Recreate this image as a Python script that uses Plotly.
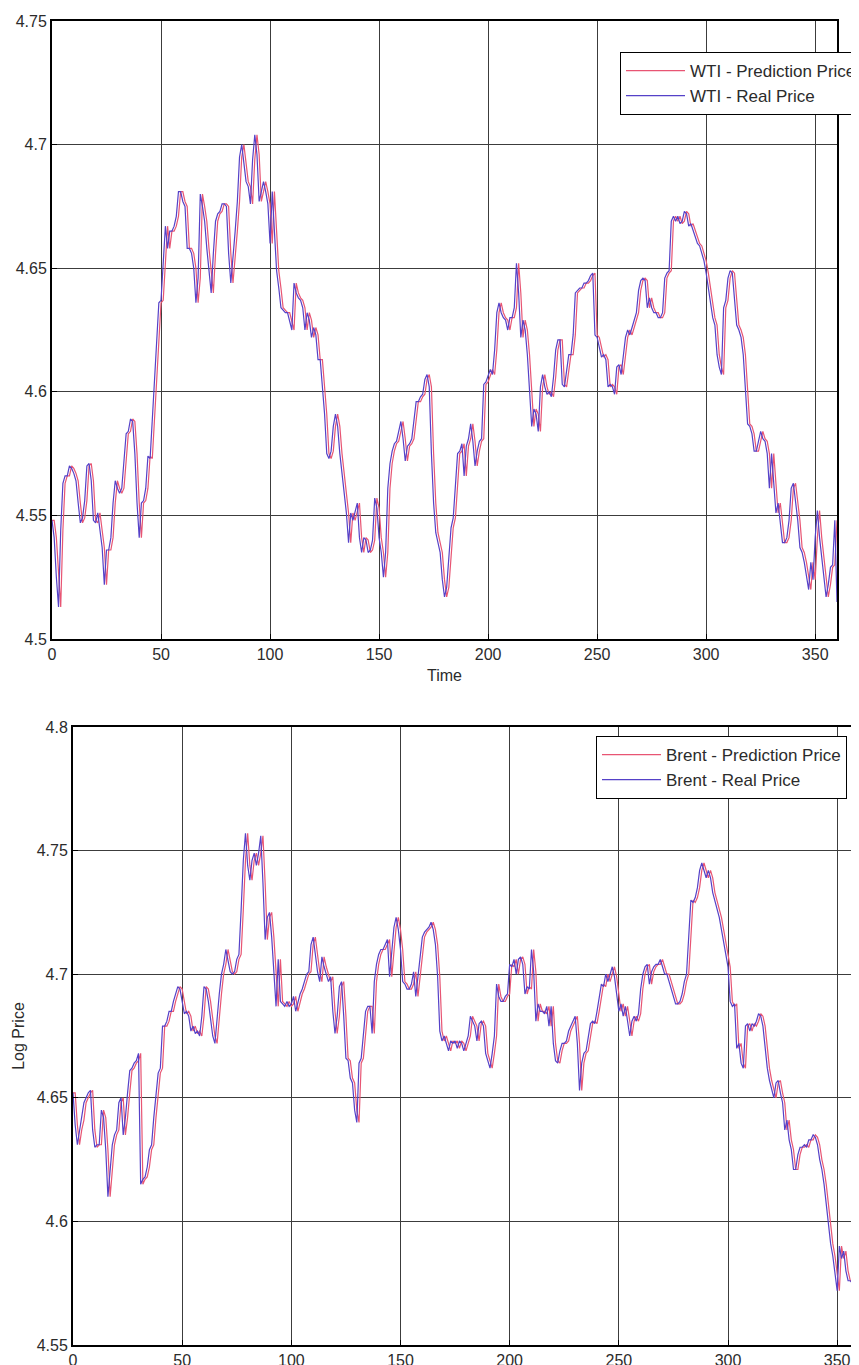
import plotly.graph_objects as go

# ---------------- data ----------------
time = list(range(0, 361))

wti_real = [
    4.548, 4.541, 4.525, 4.513, 4.544, 4.563, 4.566, 4.566, 4.570, 4.569,
    4.567, 4.564, 4.555, 4.547, 4.549, 4.556, 4.570, 4.571, 4.564, 4.548,
    4.547, 4.551, 4.544, 4.537, 4.522, 4.536, 4.536, 4.541, 4.555, 4.564,
    4.561, 4.559, 4.561, 4.574, 4.583, 4.584, 4.589, 4.588, 4.575, 4.555,
    4.541, 4.555, 4.556, 4.561, 4.574, 4.573, 4.588, 4.605, 4.623, 4.636,
    4.637, 4.653, 4.667, 4.658, 4.665, 4.665, 4.667, 4.671, 4.681, 4.681,
    4.677, 4.675, 4.658, 4.658, 4.656, 4.650, 4.636, 4.646, 4.680, 4.675,
    4.669, 4.658, 4.649, 4.640, 4.656, 4.669, 4.672, 4.673, 4.676, 4.676,
    4.675, 4.656, 4.644, 4.653, 4.665, 4.677, 4.695, 4.700, 4.692, 4.685,
    4.683, 4.676, 4.694, 4.704, 4.696, 4.677, 4.681, 4.685, 4.681, 4.676,
    4.660, 4.681, 4.665, 4.649, 4.642, 4.634, 4.633, 4.632, 4.632, 4.629,
    4.625, 4.644, 4.640, 4.638, 4.637, 4.634, 4.625, 4.632, 4.629, 4.622,
    4.626, 4.623, 4.613, 4.613, 4.602, 4.591, 4.575, 4.573, 4.576, 4.586,
    4.591, 4.586, 4.575, 4.567, 4.557, 4.551, 4.539, 4.551, 4.548, 4.552,
    4.555, 4.541, 4.535, 4.541, 4.540, 4.535, 4.536, 4.540, 4.557, 4.553,
    4.541, 4.535, 4.525, 4.535, 4.561, 4.571, 4.576, 4.579, 4.580, 4.584,
    4.588, 4.581, 4.572, 4.578, 4.579, 4.581, 4.590, 4.596, 4.596, 4.598,
    4.599, 4.605, 4.607, 4.602, 4.575, 4.555, 4.543, 4.539, 4.535, 4.524,
    4.517, 4.521, 4.535, 4.545, 4.549, 4.561, 4.575, 4.576, 4.579, 4.566,
    4.578, 4.581, 4.587, 4.580, 4.570, 4.576, 4.580, 4.581, 4.603, 4.604,
    4.607, 4.609, 4.607, 4.617, 4.632, 4.636, 4.632, 4.630, 4.629, 4.625,
    4.630, 4.630, 4.634, 4.652, 4.640, 4.622, 4.629, 4.625, 4.615, 4.602,
    4.586, 4.593, 4.591, 4.584, 4.602, 4.607, 4.602, 4.599, 4.600, 4.598,
    4.606, 4.617, 4.621, 4.621, 4.603, 4.602, 4.609, 4.615, 4.615, 4.623,
    4.640, 4.641, 4.642, 4.642, 4.644, 4.644, 4.645, 4.647, 4.648, 4.623,
    4.622, 4.618, 4.614, 4.615, 4.613, 4.602, 4.603, 4.602, 4.599, 4.610,
    4.611, 4.607, 4.615, 4.622, 4.625, 4.623, 4.626, 4.629, 4.632, 4.641,
    4.645, 4.646, 4.645, 4.634, 4.638, 4.634, 4.632, 4.632, 4.630, 4.630,
    4.632, 4.646, 4.648, 4.649, 4.669, 4.671, 4.669, 4.671, 4.668, 4.669,
    4.673, 4.672, 4.667, 4.668, 4.665, 4.663, 4.660, 4.659, 4.656, 4.653,
    4.648, 4.642, 4.637, 4.630, 4.627, 4.615, 4.610, 4.607, 4.634, 4.637,
    4.646, 4.649, 4.648, 4.637, 4.627, 4.625, 4.622, 4.615, 4.602, 4.587,
    4.586, 4.583, 4.576, 4.576, 4.580, 4.584, 4.581, 4.580, 4.575, 4.561,
    4.575, 4.561, 4.551, 4.555, 4.548, 4.539, 4.539, 4.541, 4.548, 4.561,
    4.563, 4.555, 4.548, 4.537, 4.535, 4.531, 4.525, 4.520, 4.531, 4.524,
    4.541, 4.552, 4.541, 4.532, 4.524, 4.517, 4.522, 4.529, 4.530, 4.548,
    4.515,
]

wti_pred = [
    4.548, 4.548, 4.541, 4.525, 4.513, 4.544, 4.563, 4.566, 4.566, 4.570,
    4.569, 4.567, 4.564, 4.555, 4.547, 4.549, 4.556, 4.570, 4.571, 4.564,
    4.548, 4.547, 4.551, 4.544, 4.537, 4.522, 4.536, 4.536, 4.541, 4.555,
    4.564, 4.561, 4.559, 4.561, 4.574, 4.583, 4.584, 4.589, 4.588, 4.575,
    4.555, 4.541, 4.555, 4.556, 4.561, 4.574, 4.573, 4.588, 4.605, 4.623,
    4.636, 4.637, 4.653, 4.667, 4.658, 4.665, 4.665, 4.667, 4.671, 4.681,
    4.681, 4.677, 4.675, 4.658, 4.658, 4.656, 4.650, 4.636, 4.646, 4.680,
    4.675, 4.669, 4.658, 4.649, 4.640, 4.656, 4.669, 4.672, 4.673, 4.676,
    4.676, 4.675, 4.656, 4.644, 4.653, 4.665, 4.677, 4.695, 4.700, 4.692,
    4.685, 4.683, 4.676, 4.694, 4.704, 4.696, 4.677, 4.681, 4.685, 4.681,
    4.676, 4.660, 4.681, 4.665, 4.649, 4.642, 4.634, 4.633, 4.632, 4.632,
    4.629, 4.625, 4.644, 4.640, 4.638, 4.637, 4.634, 4.625, 4.632, 4.629,
    4.622, 4.626, 4.623, 4.613, 4.613, 4.602, 4.591, 4.575, 4.573, 4.576,
    4.586, 4.591, 4.586, 4.575, 4.567, 4.557, 4.551, 4.539, 4.551, 4.548,
    4.552, 4.555, 4.541, 4.535, 4.541, 4.540, 4.535, 4.536, 4.540, 4.557,
    4.553, 4.541, 4.535, 4.525, 4.535, 4.561, 4.571, 4.576, 4.579, 4.580,
    4.584, 4.588, 4.581, 4.572, 4.578, 4.579, 4.581, 4.590, 4.596, 4.596,
    4.598, 4.599, 4.605, 4.607, 4.602, 4.575, 4.555, 4.543, 4.539, 4.535,
    4.524, 4.517, 4.521, 4.535, 4.545, 4.549, 4.561, 4.575, 4.576, 4.579,
    4.566, 4.578, 4.581, 4.587, 4.580, 4.570, 4.576, 4.580, 4.581, 4.603,
    4.604, 4.607, 4.609, 4.607, 4.617, 4.632, 4.636, 4.632, 4.630, 4.629,
    4.625, 4.630, 4.630, 4.634, 4.652, 4.640, 4.622, 4.629, 4.625, 4.615,
    4.602, 4.586, 4.593, 4.591, 4.584, 4.602, 4.607, 4.602, 4.599, 4.600,
    4.598, 4.606, 4.617, 4.621, 4.621, 4.603, 4.602, 4.609, 4.615, 4.615,
    4.623, 4.640, 4.641, 4.642, 4.642, 4.644, 4.644, 4.645, 4.647, 4.648,
    4.623, 4.622, 4.618, 4.614, 4.615, 4.613, 4.602, 4.603, 4.602, 4.599,
    4.610, 4.611, 4.607, 4.615, 4.622, 4.625, 4.623, 4.626, 4.629, 4.632,
    4.641, 4.645, 4.646, 4.645, 4.634, 4.638, 4.634, 4.632, 4.632, 4.630,
    4.630, 4.632, 4.646, 4.648, 4.649, 4.669, 4.671, 4.669, 4.671, 4.668,
    4.669, 4.673, 4.672, 4.667, 4.668, 4.665, 4.663, 4.660, 4.659, 4.656,
    4.653, 4.648, 4.642, 4.637, 4.630, 4.627, 4.615, 4.610, 4.607, 4.634,
    4.637, 4.646, 4.649, 4.648, 4.637, 4.627, 4.625, 4.622, 4.615, 4.602,
    4.587, 4.586, 4.583, 4.576, 4.576, 4.580, 4.584, 4.581, 4.580, 4.575,
    4.561, 4.575, 4.561, 4.551, 4.555, 4.548, 4.539, 4.539, 4.541, 4.548,
    4.561, 4.563, 4.555, 4.548, 4.537, 4.535, 4.531, 4.525, 4.520, 4.531,
    4.524, 4.541, 4.552, 4.541, 4.532, 4.524, 4.517, 4.522, 4.529, 4.530,
    4.548,
]

brent_real = [
    4.652, 4.639, 4.631, 4.637, 4.641, 4.648, 4.650, 4.652, 4.653, 4.637,
    4.630, 4.631, 4.631, 4.645, 4.642, 4.629, 4.610, 4.621, 4.631, 4.635,
    4.637, 4.648, 4.650, 4.635, 4.642, 4.652, 4.661, 4.662, 4.664, 4.665,
    4.668, 4.615, 4.617, 4.618, 4.622, 4.629, 4.631, 4.642, 4.652, 4.660,
    4.662, 4.679, 4.679, 4.681, 4.685, 4.685, 4.689, 4.692, 4.695, 4.694,
    4.689, 4.684, 4.685, 4.683, 4.677, 4.679, 4.676, 4.677, 4.675, 4.683,
    4.695, 4.694, 4.689, 4.683, 4.675, 4.672, 4.683, 4.692, 4.700, 4.704,
    4.710, 4.706, 4.701, 4.700, 4.701, 4.706, 4.708, 4.726, 4.746, 4.757,
    4.744, 4.738, 4.746, 4.749, 4.744, 4.749, 4.756, 4.737, 4.714, 4.723,
    4.725, 4.715, 4.699, 4.687, 4.706, 4.689, 4.688, 4.687, 4.689, 4.687,
    4.688, 4.691, 4.685, 4.689, 4.692, 4.694, 4.697, 4.700, 4.701, 4.712,
    4.715, 4.708, 4.701, 4.697, 4.707, 4.703, 4.700, 4.697, 4.699, 4.685,
    4.676, 4.683, 4.695, 4.697, 4.683, 4.666, 4.665, 4.658, 4.656, 4.645,
    4.640, 4.664, 4.666, 4.677, 4.685, 4.687, 4.687, 4.676, 4.697, 4.704,
    4.708, 4.710, 4.710, 4.712, 4.714, 4.699, 4.710, 4.719, 4.723, 4.718,
    4.710, 4.697, 4.696, 4.694, 4.694, 4.696, 4.701, 4.691, 4.699, 4.708,
    4.715, 4.717, 4.718, 4.719, 4.721, 4.718, 4.712, 4.699, 4.677, 4.673,
    4.675, 4.672, 4.669, 4.673, 4.672, 4.673, 4.670, 4.673, 4.672, 4.669,
    4.672, 4.675, 4.683, 4.681, 4.679, 4.673, 4.680, 4.681, 4.679, 4.668,
    4.665, 4.662, 4.668, 4.675, 4.696, 4.691, 4.689, 4.689, 4.691, 4.692,
    4.704, 4.703, 4.706, 4.700, 4.706, 4.707, 4.704, 4.692, 4.695, 4.694,
    4.710, 4.701, 4.681, 4.688, 4.685, 4.685, 4.684, 4.687, 4.679, 4.687,
    4.672, 4.665, 4.664, 4.669, 4.672, 4.672, 4.673, 4.677, 4.679, 4.681,
    4.683, 4.672, 4.653, 4.664, 4.668, 4.669, 4.675, 4.680, 4.681, 4.680,
    4.685, 4.691, 4.696, 4.695, 4.700, 4.697, 4.700, 4.703, 4.699, 4.692,
    4.685, 4.688, 4.683, 4.687, 4.680, 4.675, 4.681, 4.683, 4.681, 4.684,
    4.694, 4.700, 4.703, 4.704, 4.696, 4.701, 4.703, 4.704, 4.704, 4.706,
    4.703, 4.700, 4.700, 4.697, 4.694, 4.691, 4.688, 4.688, 4.689, 4.692,
    4.697, 4.700, 4.714, 4.730, 4.729, 4.731, 4.735, 4.742, 4.745, 4.742,
    4.739, 4.742, 4.739, 4.733, 4.730, 4.726, 4.723, 4.718, 4.712, 4.708,
    4.703, 4.689, 4.687, 4.688, 4.670, 4.672, 4.664, 4.662, 4.679, 4.680,
    4.677, 4.680, 4.679, 4.681, 4.684, 4.683, 4.679, 4.669, 4.662, 4.657,
    4.654, 4.650, 4.656, 4.657, 4.652, 4.648, 4.637, 4.641, 4.633, 4.629,
    4.621, 4.621, 4.627, 4.630, 4.630, 4.631, 4.630, 4.633, 4.633, 4.635,
    4.634, 4.631, 4.625, 4.621, 4.615, 4.607, 4.599, 4.591, 4.586, 4.578,
    4.572, 4.590, 4.585, 4.588, 4.580, 4.576, 4.576, 4.575, 4.576, 4.576,
    4.575,
]

brent_pred = [
    4.652, 4.652, 4.639, 4.631, 4.637, 4.641, 4.648, 4.650, 4.652, 4.653,
    4.637, 4.630, 4.631, 4.631, 4.645, 4.642, 4.629, 4.610, 4.621, 4.631,
    4.635, 4.637, 4.648, 4.650, 4.635, 4.642, 4.652, 4.661, 4.662, 4.664,
    4.665, 4.668, 4.615, 4.617, 4.618, 4.622, 4.629, 4.631, 4.642, 4.652,
    4.660, 4.662, 4.679, 4.679, 4.681, 4.685, 4.685, 4.689, 4.692, 4.695,
    4.694, 4.689, 4.684, 4.685, 4.683, 4.677, 4.679, 4.676, 4.677, 4.675,
    4.683, 4.695, 4.694, 4.689, 4.683, 4.675, 4.672, 4.683, 4.692, 4.700,
    4.704, 4.710, 4.706, 4.701, 4.700, 4.701, 4.706, 4.708, 4.726, 4.746,
    4.757, 4.744, 4.738, 4.746, 4.749, 4.744, 4.749, 4.756, 4.737, 4.714,
    4.723, 4.725, 4.715, 4.699, 4.687, 4.706, 4.689, 4.688, 4.687, 4.689,
    4.687, 4.688, 4.691, 4.685, 4.689, 4.692, 4.694, 4.697, 4.700, 4.701,
    4.712, 4.715, 4.708, 4.701, 4.697, 4.707, 4.703, 4.700, 4.697, 4.699,
    4.685, 4.676, 4.683, 4.695, 4.697, 4.683, 4.666, 4.665, 4.658, 4.656,
    4.645, 4.640, 4.664, 4.666, 4.677, 4.685, 4.687, 4.687, 4.676, 4.697,
    4.704, 4.708, 4.710, 4.710, 4.712, 4.714, 4.699, 4.710, 4.719, 4.723,
    4.718, 4.710, 4.697, 4.696, 4.694, 4.694, 4.696, 4.701, 4.691, 4.699,
    4.708, 4.715, 4.717, 4.718, 4.719, 4.721, 4.718, 4.712, 4.699, 4.677,
    4.673, 4.675, 4.672, 4.669, 4.673, 4.672, 4.673, 4.670, 4.673, 4.672,
    4.669, 4.672, 4.675, 4.683, 4.681, 4.679, 4.673, 4.680, 4.681, 4.679,
    4.668, 4.665, 4.662, 4.668, 4.675, 4.696, 4.691, 4.689, 4.689, 4.691,
    4.692, 4.704, 4.703, 4.706, 4.700, 4.706, 4.707, 4.704, 4.692, 4.695,
    4.694, 4.710, 4.701, 4.681, 4.688, 4.685, 4.685, 4.684, 4.687, 4.679,
    4.687, 4.672, 4.665, 4.664, 4.669, 4.672, 4.672, 4.673, 4.677, 4.679,
    4.681, 4.683, 4.672, 4.653, 4.664, 4.668, 4.669, 4.675, 4.680, 4.681,
    4.680, 4.685, 4.691, 4.696, 4.695, 4.700, 4.697, 4.700, 4.703, 4.699,
    4.692, 4.685, 4.688, 4.683, 4.687, 4.680, 4.675, 4.681, 4.683, 4.681,
    4.684, 4.694, 4.700, 4.703, 4.704, 4.696, 4.701, 4.703, 4.704, 4.704,
    4.706, 4.703, 4.700, 4.700, 4.697, 4.694, 4.691, 4.688, 4.688, 4.689,
    4.692, 4.697, 4.700, 4.714, 4.730, 4.729, 4.731, 4.735, 4.742, 4.745,
    4.742, 4.739, 4.742, 4.739, 4.733, 4.730, 4.726, 4.723, 4.718, 4.712,
    4.708, 4.703, 4.689, 4.687, 4.688, 4.670, 4.672, 4.664, 4.662, 4.679,
    4.680, 4.677, 4.680, 4.679, 4.681, 4.684, 4.683, 4.679, 4.669, 4.662,
    4.657, 4.654, 4.650, 4.656, 4.657, 4.652, 4.648, 4.637, 4.641, 4.633,
    4.629, 4.621, 4.621, 4.627, 4.630, 4.630, 4.631, 4.630, 4.633, 4.633,
    4.635, 4.634, 4.631, 4.625, 4.621, 4.615, 4.607, 4.599, 4.591, 4.586,
    4.578, 4.572, 4.590, 4.585, 4.588, 4.580, 4.576, 4.576, 4.575, 4.576,
    4.576,
]

x_ticks = [0, 50, 100, 150, 200, 250, 300, 350]
wti_yticks = [4.5, 4.55, 4.6, 4.65, 4.7, 4.75]
wti_ytext = ["4.5", "4.55", "4.6", "4.65", "4.7", "4.75"]
brent_yticks = [4.55, 4.6, 4.65, 4.7, 4.75, 4.8]
brent_ytext = ["4.55", "4.6", "4.65", "4.7", "4.75", "4.8"]

# ---------------- figure ----------------
W, H = 859, 1365
OFF = 8  # page body margin in the browser
PRED = "rgb(232,85,115)"
REAL = "rgb(85,65,200)"
FONT = "Liberation Sans, Arial, sans-serif"
TXT = "#2b2b2b"


def fx(px):
    return (px - OFF) / W


def fy(py):
    return 1 - (py - OFF) / H


fig = go.Figure()
fig.add_trace(go.Scatter(x=time, y=wti_pred, mode="lines", name="WTI - Prediction Price",
                         line=dict(color=PRED, width=1.2), xaxis="x", yaxis="y", legend="legend"))
fig.add_trace(go.Scatter(x=time, y=wti_real, mode="lines", name="WTI - Real Price",
                         line=dict(color=REAL, width=1.2), xaxis="x", yaxis="y", legend="legend"))
fig.add_trace(go.Scatter(x=time, y=brent_pred, mode="lines", name="Brent - Prediction Price",
                         line=dict(color=PRED, width=1.2), xaxis="x2", yaxis="y2", legend="legend2"))
fig.add_trace(go.Scatter(x=time, y=brent_real, mode="lines", name="Brent - Real Price",
                         line=dict(color=REAL, width=1.2), xaxis="x2", yaxis="y2", legend="legend2"))


def ax(**kw):
    base = dict(showgrid=True, gridcolor="#3c3c3c", gridwidth=1, zeroline=False,
                showline=True, linecolor="black", linewidth=2, mirror=True,
                ticks="inside", ticklen=5, tickcolor="black", automargin=False,
                tickfont=dict(size=16, color=TXT, family=FONT))
    base.update(kw)
    return base


fig.update_layout(
    width=W, height=H,
    margin=dict(l=0, r=0, t=0, b=0, autoexpand=False),
    paper_bgcolor="white", plot_bgcolor="white",
    font=dict(family=FONT, size=16, color=TXT),
    xaxis=ax(domain=[fx(52), fx(837)], anchor="y", range=[0, 360],
             tickvals=x_ticks,
             title=dict(text="Time", standoff=8, font=dict(size=16, color=TXT))),
    yaxis=ax(domain=[fy(639), fy(21)], anchor="x", range=[4.5, 4.75],
             tickvals=wti_yticks, ticktext=wti_ytext),
    xaxis2=ax(domain=[fx(73), fx(859)], anchor="y2", range=[0, 360], tickvals=x_ticks),
    yaxis2=ax(domain=[fy(1345), fy(727)], anchor="x2", range=[4.55, 4.8],
              tickvals=brent_yticks, ticktext=brent_ytext,
              title=dict(text="Log Price", standoff=8, font=dict(size=16, color=TXT))),
    legend=dict(x=fx(620), y=fy(52), xanchor="left", yanchor="top",
                bgcolor="white", bordercolor="black", borderwidth=1,
                font=dict(size=17, color=TXT, family=FONT), itemwidth=59, tracegroupgap=0),
    legend2=dict(x=fx(596), y=fy(736), xanchor="left", yanchor="top",
                 bgcolor="white", bordercolor="black", borderwidth=1,
                 font=dict(size=17, color=TXT, family=FONT), itemwidth=59, tracegroupgap=0),
    showlegend=True,
)

fig.write_html("out.html")
